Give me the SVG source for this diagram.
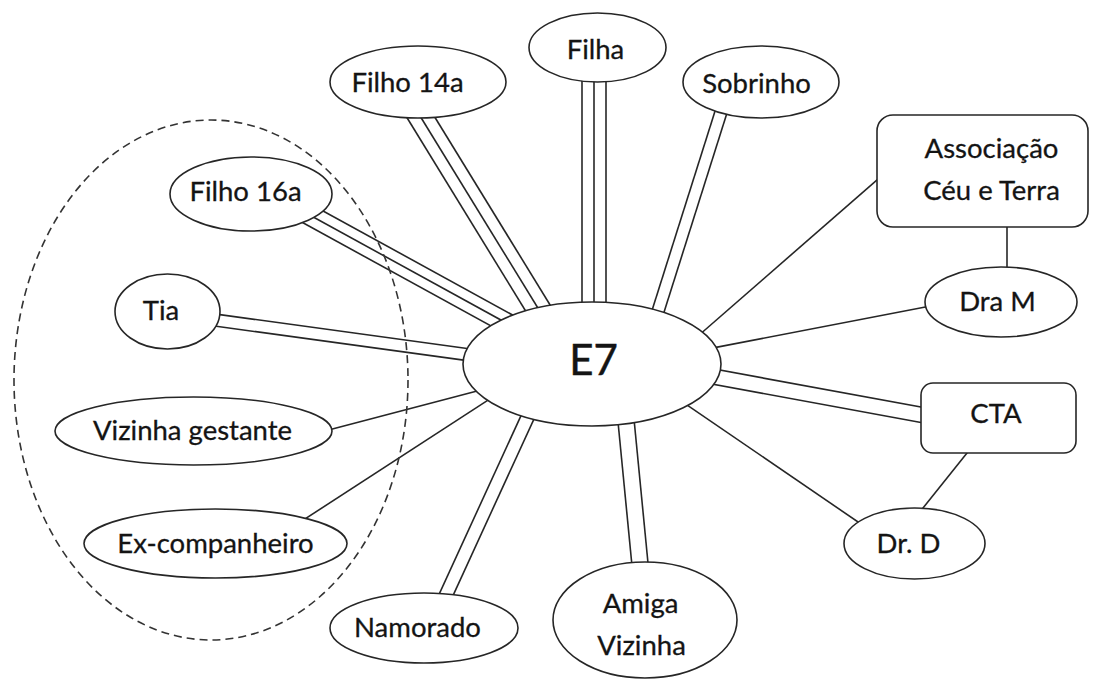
<svg xmlns="http://www.w3.org/2000/svg" width="1099" height="679" viewBox="0 0 1099 679">
  <style>
    .node { fill: #fff; stroke: #262626; stroke-width: 1.6; }
    .lbl { font-family: Lato, "Liberation Sans", sans-serif; font-size: 27.5px; fill: #141414; stroke: #141414; stroke-width: 0.3; text-anchor: middle; }
    .big { font-size: 42px; stroke-width: 0.5; }
    .single { stroke: #262626; stroke-width: 1.6; }
    .o { stroke: #262626; }
    .i { stroke: #fff; }
    .t12.o { stroke-width: 25.6; } .t12.i { stroke-width: 22.4; }
    .t10.o { stroke-width: 21.6; } .t10.i { stroke-width: 18.4; }
    .mid { stroke: #262626; stroke-width: 1.6; }
    .d12.o { stroke-width: 13.6; } .d12.i { stroke-width: 10.4; }
    .d13.o { stroke-width: 14.8; } .d13.i { stroke-width: 11.6; }
    .d15.o { stroke-width: 16.8; } .d15.i { stroke-width: 13.6; }
    .d16.o { stroke-width: 17.8; } .d16.i { stroke-width: 14.6; }
    .group { fill: none; stroke: #333; stroke-width: 1.6; stroke-dasharray: 8 5; }
  </style>

  <!-- ties from E7 to each person / service -->
  <g id="connectors" fill="none">
    <!-- Filha: triple -->
    <line class="t12 o" x1="594" y1="60" x2="594" y2="330"/>
    <line class="t12 i" x1="594" y1="60" x2="594" y2="330"/>
    <line class="mid" x1="594" y1="60" x2="594" y2="330"/>
    <!-- Filho 14a: triple -->
    <line class="t12 o" x1="409.6" y1="99" x2="552" y2="331"/>
    <line class="t12 i" x1="409.6" y1="99" x2="552" y2="331"/>
    <line class="mid" x1="409.6" y1="99" x2="552" y2="331"/>
    <!-- Filho 16a: triple -->
    <line class="t10 o" x1="290" y1="204.2" x2="520" y2="330.5"/>
    <line class="t10 i" x1="290" y1="204.2" x2="520" y2="330.5"/>
    <line class="mid" x1="290" y1="204.2" x2="520" y2="330.5"/>
    <!-- Tia: double -->
    <line class="d12 o" x1="190" y1="316.6" x2="490" y2="357.7"/>
    <line class="d12 i" x1="190" y1="316.6" x2="490" y2="357.7"/>
    <!-- Vizinha gestante: single -->
    <line class="single" x1="300" y1="437.4" x2="500" y2="385"/>
    <!-- Ex-companheiro: single -->
    <line class="single" x1="280" y1="535.2" x2="510" y2="385.8"/>
    <!-- Namorado: double -->
    <line class="d13 o" x1="440.7" y1="606.6" x2="534.6" y2="401.8"/>
    <line class="d13 i" x1="440.7" y1="606.6" x2="534.6" y2="401.8"/>
    <!-- Amiga Vizinha: double -->
    <line class="d16 o" x1="624.5" y1="405" x2="642" y2="585"/>
    <line class="d16 i" x1="624.5" y1="405" x2="642" y2="585"/>
    <!-- Sobrinho: double -->
    <line class="d12 o" x1="724.5" y1="101" x2="654" y2="324"/>
    <line class="d12 i" x1="724.5" y1="101" x2="654" y2="324"/>
    <!-- Associação Céu e Terra: single -->
    <line class="single" x1="690" y1="343" x2="890" y2="168.6"/>
    <!-- Dra M: single -->
    <line class="single" x1="690" y1="352.4" x2="950" y2="302.2"/>
    <!-- CTA: double -->
    <line class="d15 o" x1="690" y1="372.3" x2="940" y2="418.3"/>
    <line class="d15 i" x1="690" y1="372.3" x2="940" y2="418.3"/>
    <!-- Dr. D: single -->
    <line class="single" x1="670" y1="393.3" x2="880" y2="537"/>
    <!-- links between services -->
    <line class="single" x1="1007" y1="220" x2="1007" y2="275"/>
    <line class="single" x1="975" y1="443" x2="915" y2="518"/>
  </g>

  <!-- dashed grouping around the household -->
  <ellipse id="household" class="group" cx="211" cy="380" rx="197" ry="260"/>

  <g id="e7">
    <ellipse class="node" cx="592" cy="364" rx="129" ry="62"/>
    <text class="lbl big" x="593.5" y="375">E7</text>
  </g>
  <g id="filha">
    <ellipse class="node" cx="597.5" cy="47.5" rx="68.5" ry="34.5"/>
    <text class="lbl" x="595.5" y="59">Filha</text>
  </g>
  <g id="filho14a">
    <ellipse class="node" cx="418" cy="82" rx="88" ry="36"/>
    <text class="lbl" x="407.5" y="92">Filho 14a</text>
  </g>
  <g id="sobrinho">
    <ellipse class="node" cx="761" cy="82" rx="78" ry="36"/>
    <text class="lbl" x="756.5" y="93">Sobrinho</text>
  </g>
  <g id="filho16a">
    <ellipse class="node" cx="251" cy="194" rx="81" ry="37"/>
    <text class="lbl" x="245.5" y="201">Filho 16a</text>
  </g>
  <g id="tia">
    <ellipse class="node" cx="167.5" cy="311.5" rx="52.5" ry="37.5"/>
    <text class="lbl" x="161" y="320">Tia</text>
  </g>
  <g id="vizinha-gestante">
    <ellipse class="node" cx="193.5" cy="431" rx="138.5" ry="34"/>
    <text class="lbl" x="192.5" y="440">Vizinha gestante</text>
  </g>
  <g id="ex-companheiro">
    <ellipse class="node" cx="215.5" cy="543.5" rx="131.5" ry="34.5"/>
    <text class="lbl" x="215.5" y="553">Ex-companheiro</text>
  </g>
  <g id="namorado">
    <ellipse class="node" cx="424" cy="628" rx="94" ry="35"/>
    <text class="lbl" x="417.5" y="637">Namorado</text>
  </g>
  <g id="amiga-vizinha">
    <ellipse class="node" cx="645" cy="620" rx="92" ry="58"/>
    <text class="lbl" x="640.5" y="613">Amiga</text>
    <text class="lbl" x="641.5" y="655">Vizinha</text>
  </g>
  <g id="associacao">
    <rect class="node" x="877" y="115" width="211" height="112" rx="16"/>
    <text class="lbl" x="991.5" y="158">Associação</text>
    <text class="lbl" x="991.5" y="200">Céu e Terra</text>
  </g>
  <g id="dra-m">
    <ellipse class="node" cx="1001" cy="302" rx="76" ry="35"/>
    <text class="lbl" x="997.5" y="311">Dra M</text>
  </g>
  <g id="cta">
    <rect class="node" x="921" y="383" width="155" height="70" rx="12"/>
    <text class="lbl" x="996" y="423">CTA</text>
  </g>
  <g id="dr-d">
    <ellipse class="node" cx="914.5" cy="543.5" rx="70.5" ry="35.5"/>
    <text class="lbl" x="908.5" y="553">Dr. D</text>
  </g>
</svg>
